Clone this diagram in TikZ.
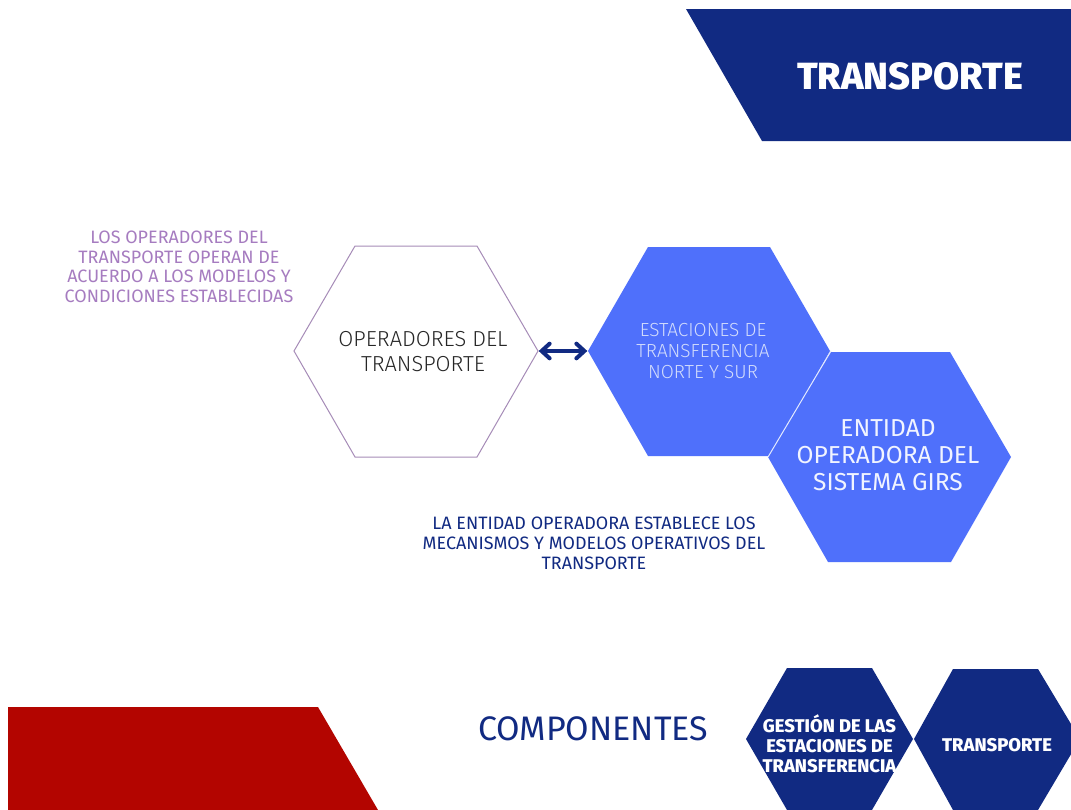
\documentclass[tikz,border=0pt]{standalone}
\usepackage{fontspec}
\usetikzlibrary{arrows.meta}
\setmainfont{Fira Sans}
\definecolor{navy}{HTML}{112A82}
\definecolor{midblue}{HTML}{4F70FB}
\definecolor{brickred}{HTML}{B30500}
\definecolor{lilac}{HTML}{A67CC0}
\definecolor{hexline}{HTML}{A68CB8}
\definecolor{paleblue}{HTML}{D2DCFC}
\tikzset{
  x=0.75pt,y=-0.75pt,
  lbl/.style={align=center,inner sep=0pt,anchor=center},
}
\newcommand{\sz}[2]{\fontsize{#1}{#2}\selectfont}
\newfontfamily\firalight{Fira Sans Light}
\newfontfamily\firaheavy{Fira Sans ExtraBold}
\begin{document}
\begin{tikzpicture}
\useasboundingbox (0,0) rectangle (1071,810);
\clip (0,0) rectangle (1071,810);
\fill[white] (0,0) rectangle (1071,810);
% banners
\fill[navy] (686,9) -- (1071,9) -- (1071,141) -- (762,141) -- cycle;
\fill[brickred] (8,707) -- (318,707) -- (378,810) -- (8,810) -- cycle;
% hexagons
\draw[hexline,line width=0.75pt] (294,351) -- (355,246) -- (477,246) -- (538,351) -- (477,457) -- (355,457) -- cycle;
\fill[midblue] (588,351) -- (648,247) -- (770,247) -- (830,351) -- (770,456) -- (648,456) -- cycle;
\fill[midblue] (768,457) -- (830,352) -- (950,352) -- (1011,457) -- (951,562) -- (828,562) -- cycle;
\draw[white!85!midblue,line width=0.75pt] (831,351) -- (768,457);
\fill[navy] (746,739) -- (787,668) -- (872,668) -- (913,739) -- (872,810) -- (787,810) -- cycle;
\fill[navy] (914,739) -- (953,669) -- (1038,669) -- (1080,739) -- (1038,810) -- (953,810) -- cycle;
% arrow
\coordinate (opR) at (538,351);
\coordinate (estL) at (588,351);
\draw[navy,line width=3pt,line cap=round,shorten <=0.5pt,shorten >=0.5pt,{Straight Barb[length=6pt,width=11pt,line cap=round]}-{Straight Barb[length=6pt,width=11pt,line cap=round]}] (opR) -- (estL);
% texts
\node[lbl,text=white,font=\firaheavy\sz{28.4}{30}] (title) at (910,76) {TRANSPORTE};
\node[lbl,text=lilac,font=\sz{13.45}{14.6}] (n1) at (179,267) {LOS OPERADORES DEL\\TRANSPORTE OPERAN DE\\ACUERDO A LOS MODELOS Y\\CONDICIONES ESTABLECIDAS};
\node[lbl,text=black!85,font=\firalight\sz{16.3}{18.7}] (op) at (423,352) {OPERADORES DEL\\TRANSPORTE};
\node[lbl,text=paleblue,font=\firalight\sz{14.2}{15.6}] (est) at (703,351) {ESTACIONES DE\\TRANSFERENCIA\\NORTE Y SUR};
\node[lbl,text=white!92!midblue,font=\sz{18.4}{20.4}] (ent) at (888,455) {ENTIDAD\\OPERADORA DEL\\SISTEMA GIRS};
\node[lbl,text=navy,font=\sz{13.45}{15}] (n2) at (594,543) {LA ENTIDAD OPERADORA ESTABLECE LOS\\MECANISMOS Y MODELOS OPERATIVOS DEL\\TRANSPORTE};
\node[lbl,text=navy,font=\sz{25.5}{30}] (comp) at (593,729) {COMPONENTES};
\node[lbl,text=white,font=\firaheavy\sz{13.8}{15.1}] (g) at (829.5,744) {GESTIÓN DE LAS\\ESTACIONES DE\\TRANSFERENCIA};
\node[lbl,text=white,font=\firaheavy\sz{13.8}{15}] (t) at (997,745) {TRANSPORTE};
\end{tikzpicture}
\end{document}
